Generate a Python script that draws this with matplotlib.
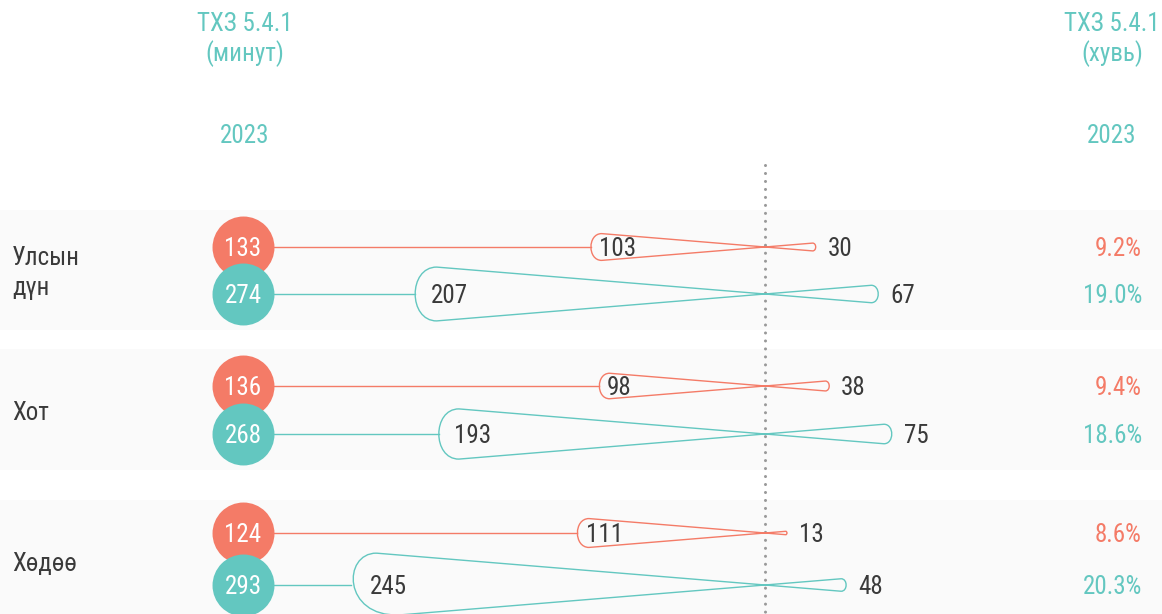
import matplotlib
matplotlib.use("Agg")
import matplotlib.pyplot as plt
from matplotlib.path import Path
from matplotlib.patches import PathPatch
from matplotlib import font_manager

# data
regions = ["Улсын\nдүн", "Хот", "Хөдөө"]
women_total = [133, 136, 124]
women_left = [103, 98, 111]
women_right = [30, 38, 13]
women_pct = ["9.2%", "9.4%", "8.6%"]
men_total = [274, 268, 293]
men_left = [207, 193, 245]
men_right = [67, 75, 48]
men_pct = ["19.0%", "18.6%", "20.3%"]

RED = "#F47B67"
TEAL = "#63C7C0"
DARK = "#3A3A3A"

# font
names = {f.name for f in font_manager.fontManager.ttflist}
fam = [n for n in ["Roboto Condensed", "Roboto", "DejaVu Sans"] if n in names]
plt.rcParams["font.family"] = fam
FS = 18
DY = 2.0   # nudge text down a little so digits sit on the row line

# layout (pixel space of the 1162x614 picture)
W, H = 1162, 614
CENTER_PX = 765      # where the ribbons cross
PX = 1.69            # px per minute along x
KH = 0.13            # half height of a ribbon end, px per minute
CIRCLE_PX = 243
row_y = [(247, 294), (386, 434), (533, 585)]
label_y = [271, 411, 562]
bands = [(210, 330), (349, 470), (500, 614)]


def px2x(p):
    return (p - CENTER_PX) / PX


def ribbon(ax, y0, left, right, color):
    hl = KH * left
    hr = KH * right
    rxl = 0.8 * hl / PX
    rxr = 0.8 * hr / PX
    cl = rxl / 0.75
    cr = rxr / 0.75
    verts = [
        (-left + rxl, y0 - hl),
        (0, y0),
        (right - rxr, y0 + hr),
        (right - rxr + cr, y0 + hr), (right - rxr + cr, y0 - hr), (right - rxr, y0 - hr),
        (0, y0),
        (-left + rxl, y0 + hl),
        (-left + rxl - cl, y0 + hl), (-left + rxl - cl, y0 - hl), (-left + rxl, y0 - hl),
        (0, 0),
    ]
    codes = [Path.MOVETO, Path.LINETO, Path.LINETO,
             Path.CURVE4, Path.CURVE4, Path.CURVE4,
             Path.LINETO, Path.LINETO,
             Path.CURVE4, Path.CURVE4, Path.CURVE4,
             Path.CLOSEPOLY]
    ax.add_patch(PathPatch(Path(verts, codes), facecolor="none", edgecolor=color,
                           lw=1.0, zorder=3))


fig = plt.figure(figsize=(W / 100, H / 100), dpi=100)
ax = fig.add_axes([0, 0, 1, 1])
ax.set_xlim(px2x(0), px2x(W))
ax.set_ylim(H, 0)
ax.axis("off")

# grey bands behind each region
for top, bot in bands:
    ax.axhspan(top, bot, color="#FAFAFA", lw=0, zorder=0)

# dotted centre line
ax.plot([0, 0], [165, H], color="#999999", lw=2.2, dashes=(0.01, 2.6),
        solid_capstyle="round", dash_capstyle="round", zorder=2)

# headers
for xp, lab in [(245, "(минут)"), (1112, "(хувь)")]:
    ax.text(px2x(xp), 22 + DY, "ТХЗ 5.4.1", ha="center", va="center", color=TEAL, fontsize=FS)
    ax.text(px2x(xp), 52 + DY, lab, ha="center", va="center", color=TEAL, fontsize=FS)
    ax.text(px2x(xp), 134 + DY, "2023", ha="center", va="center", color=TEAL, fontsize=FS)

cx = px2x(CIRCLE_PX)
for i, reg in enumerate(regions):
    ax.text(px2x(12), label_y[i] + DY, reg, ha="left", va="center", color=DARK,
            fontsize=FS, linespacing=1.3)
    series = [(women_total[i], women_left[i], women_right[i], women_pct[i], RED),
              (men_total[i], men_left[i], men_right[i], men_pct[i], TEAL)]
    for (tot, lv, rv, pct, col), y0 in zip(series, row_y[i]):
        # connector from circle to ribbon
        ax.plot([cx, -lv], [y0, y0], color=col, lw=1.0, zorder=1)
        ribbon(ax, y0, lv, rv, col)
        ax.scatter([cx], [y0], s=1990, color=col, zorder=4, linewidths=0)
        ax.text(cx, y0 + DY, str(tot), ha="center", va="center", color="white",
                fontsize=FS, zorder=5)
        # values at the ribbon ends
        ax.annotate(str(lv), (-lv, y0 + DY), xytext=(0.075 * lv * 0.75, 0),
                    textcoords="offset points", ha="left", va="center",
                    color=DARK, fontsize=FS, zorder=5)
        ax.annotate(str(rv), (rv, y0 + DY), xytext=(8.5, 0), textcoords="offset points",
                    ha="left", va="center", color=DARK, fontsize=FS, zorder=5)
        ax.text(px2x(1142), y0 + DY, pct, ha="right", va="center", color=col, fontsize=FS)

fig.savefig("out.png", dpi=100)
